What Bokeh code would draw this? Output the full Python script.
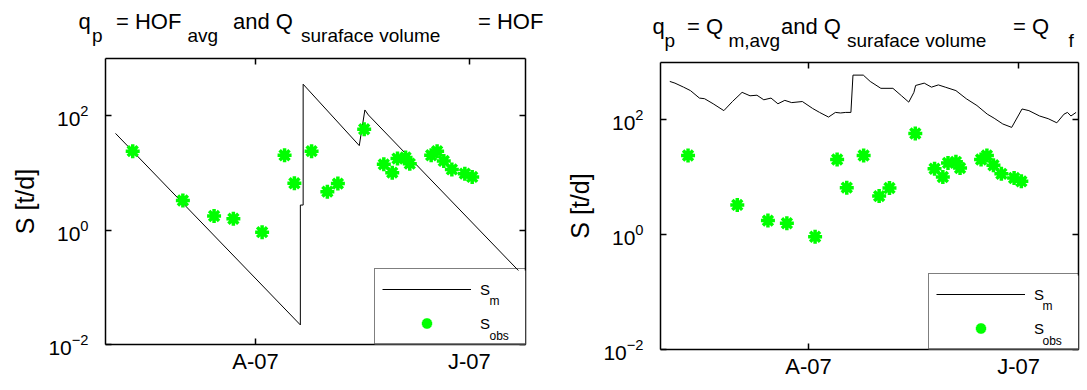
import numpy as np
import pandas as pd
from bokeh.plotting import figure
from bokeh.layouts import row, column
from bokeh.models import (Range1d, FixedTicker, LinearAxis, LogAxis, Label, Div,
                          Legend, LegendItem, CustomJSTickFormatter, LinearScale,
                          BoxAnnotation)
from bokeh.embed import file_html
from bokeh.resources import INLINE

FONT = "Liberation Sans"
BASE = pd.Timestamp("2007-04-01")

# ---------------- data (days relative to 1 April 2007) ----------------
obs_day = [-35.0, -20.7, -11.8, -6.3, 1.9, 8.3, 11.1, 16.0, 20.5, 23.5, 31.0,
           36.6, 39.0, 40.5, 42.8, 44.0, 50.1, 51.8, 53.7, 56.0, 59.7, 61.8]
obs_S = [24, 3.3, 1.76, 1.58, 0.92, 20.4, 6.6, 24, 4.7, 6.5, 58,
         14.1, 10.1, 17.8, 18.6, 14.5, 20.4, 24, 16.2, 11.5, 9.7, 8.5]

hof_day = [-39.9, 12.8, 12.8, 13.6, 13.6, 29.6, 31.2, 32.2, 77.0]
hof_S = [49, 0.022, 2.74, 2.74, 355, 30, 126, 103, 0.146]

qm_day = [-40.3, -38.8, -36.3, -34.3, -31.7, -30.2, -27.7, -24.6, -22.1, -19.3,
          -17.0, -15.0, -13.0, -10.9, -8.9, -6.9, -4.9, -1.8, 1.2, 3.2,
          5.8, 7.8, 9.3, 10.8, 12.3, 12.9, 15.9, 17.9, 21.0, 24.5,
          27.0, 29.1, 30.6, 31.1, 33.6, 35.7, 37.7, 39.7, 42.8, 45.8,
          48.9, 51.9, 53.9, 56.4, 59.0, 62.0, 64.0, 67.1, 69.6, 72.1,
          74.2, 75.2, 76.2, 77.7]
qm_S = [468, 437, 372, 324, 240, 234, 191, 145, 209, 302,
        263, 269, 224, 240, 191, 219, 200, 209, 158, 135,
        112, 135, 132, 135, 135, 603, 603, 468, 355, 355,
        263, 204, 302, 398, 437, 372, 407, 372, 324, 234,
        178, 126, 107, 85, 74, 155, 145, 117, 105, 89,
        126, 135, 117, 135]

xtick_day = [0, 61]
xtick_labels = ["A-07", "J-07"]
ytick_vals = [0.01, 1, 100]

title_left = [("q", "main"), ("p", "sub"), ("= HOF", "main"), ("avg", "sub"),
              ("and Q", "main"), ("suraface volume", "sub"), ("= HOF", "main")]
title_right = [("q", "main"), ("p", "sub"), ("= Q", "main"), ("m,avg", "sub"),
               ("and Q", "main"), ("suraface volume", "sub"), ("= Q", "main"),
               ("f", "sub")]
ylabel = "S [t/d]"
legend_base = "S"
legend_subs = ["m", "obs"]


def to_dt(days):
    return BASE + pd.to_timedelta(np.asarray(days, dtype=float), unit="D")


def to_ms(d):
    return int((BASE + pd.Timedelta(days=d)).value // 10**6)


GREEN = "#00ff00"
ORIGIN_Y = 5      # page y of the layout's top edge
TITLE_H = 52      # height of the title strip
DIV_SHIFT = 4     # extra downward shift of the title text


def blank_fmt():
    return CustomJSTickFormatter(code="return ''")


def make_title(width, page_left, segs, xs, base):
    spans = []
    for (txt, kind), xp in zip(segs, xs):
        if kind == "main":
            size, yb = 22, base
        else:
            size, yb = 19, base + 12
        top = yb - ORIGIN_Y - 0.8465 * size + DIV_SHIFT
        spans.append(
            f'<span style="position:absolute;left:{xp - page_left:.1f}px;top:{top:.1f}px;'
            f'font-size:{size}px;line-height:1;white-space:nowrap;">{txt}</span>')
    html = (f'<div style="position:relative;width:{width}px;height:{TITLE_H}px;'
            f"font-family:'Liberation Sans',Arial,sans-serif;color:#000;\">"
            + "".join(spans) + "</div>")
    return Div(text=html, width=width, height=TITLE_H, margin=0)


def make_panel(cfg):
    fl, ft, fw, fh = cfg["fl"], cfg["ft"], cfg["fw"], cfg["fh"]
    fb = ft + fh
    x0, x1 = cfg["x0"], cfg["x1"]
    p = figure(x_axis_type="datetime", y_axis_type="log",
               frame_width=fw, frame_height=fh,
               min_border_left=fl - cfg["page_left"],
               min_border_top=ft - ORIGIN_Y - TITLE_H,
               min_border_bottom=cfg["bb"], min_border_right=cfg["br"],
               x_range=Range1d(to_dt([x0])[0], to_dt([x1])[0]),
               y_range=Range1d(0.01, 1000),
               output_backend="svg", toolbar_location=None, title=None)
    p.xgrid.visible = False
    p.ygrid.visible = False
    p.outline_line_color = None
    p.background_fill_color = "white"
    p.border_fill_color = "white"
    # page-pixel ranges over the frame, used only to place legend decorations
    p.extra_x_ranges = {"px": Range1d(fl, fl + fw)}
    p.extra_y_ranges = {"py": Range1d(fb, ft)}
    p.extra_x_scales = {"px": LinearScale()}
    p.extra_y_scales = {"py": LinearScale()}

    xt = [to_ms(d) for d in xtick_day]
    xa = p.below[0]
    ya = p.left[0]
    xa.ticker = FixedTicker(ticks=xt)
    xa.major_label_overrides = {t: l for t, l in zip(xt, xtick_labels)}
    ya.ticker = FixedTicker(ticks=ytick_vals)

    top = LinearAxis(ticker=FixedTicker(ticks=xt), formatter=blank_fmt(),
                     major_label_standoff=0)
    right = LogAxis(ticker=FixedTicker(ticks=ytick_vals), formatter=blank_fmt(),
                    major_label_standoff=0)
    p.add_layout(top, "above")
    p.add_layout(right, "right")

    for ax in [xa, ya, top, right]:
        ax.axis_line_color = "black"
        ax.axis_line_width = 1.5
        ax.major_tick_line_color = "black"
        ax.major_tick_line_width = 1.5
        ax.major_tick_in = 6
        ax.major_tick_out = 0
        ax.minor_tick_in = 0
        ax.minor_tick_out = 0
        ax.minor_tick_line_color = None
    for ax in [xa, ya]:
        ax.major_label_text_font = FONT
        ax.major_label_text_color = "black"
    xa.major_label_text_font_size = "22px"
    xa.major_label_standoff = cfg["xstand"]
    ya.major_label_text_font_size = "21px"
    ya.major_label_standoff = 17
    ya.axis_label = ylabel
    ya.axis_label_text_font = FONT
    ya.axis_label_text_font_style = "normal"
    ya.axis_label_text_font_size = "25px"
    ya.axis_label_text_color = "black"
    ya.axis_label_standoff = 6

    r_line = p.line(to_dt(cfg["line_day"]), cfg["line_S"], line_color="black", line_width=1)
    r_obs = p.scatter(to_dt(obs_day), obs_S, marker="asterisk", size=14,
                      line_color=GREEN, line_width=3.5)

    lw = cfg["leg_w"]
    pad, gw, gh, sp = 7, 89, 26, 8
    lh = 2 * pad + 2 * gh + sp
    # white backing of the legend box (hides the model line beneath it)
    p.add_layout(BoxAnnotation(left=fl + fw - lw, right=fl + fw, top=fb - lh, bottom=fb,
                               x_range_name="px", y_range_name="py",
                               fill_color="white", fill_alpha=1.0, line_color=None,
                               level="annotation"))
    leg = Legend(items=[LegendItem(label=legend_base, renderers=[r_line]),
                        LegendItem(label=legend_base, renderers=[r_obs])],
                 location=(fw - lw, 0), orientation="vertical",
                 padding=pad, spacing=sp, glyph_width=gw, glyph_height=gh,
                 label_standoff=9, label_width=lw - pad - gw - 9 - pad,
                 label_text_font=FONT, label_text_font_size="15px",
                 label_text_color="black",
                 border_line_color="black", border_line_width=1.5,
                 background_fill_color="white", background_fill_alpha=0.0,
                 margin=0)
    p.add_layout(leg)

    for (xp, yp), txt in zip(cfg["sub_pos"], legend_subs):
        p.add_layout(Label(x=xp, y=yp, x_range_name="px", y_range_name="py",
                           text=txt, text_font=FONT, text_font_size="12px",
                           text_align="left", text_baseline="alphabetic",
                           text_color="black", level="overlay"))
    return p


left_cfg = dict(page_left=0, fl=105, ft=63, fw=420, fh=286, bb=30, br=38,
                x0=-42.76, x1=77.0, line_day=hof_day, line_S=hof_S, xstand=4,
                leg_w=151, sub_pos=[(489, 305), (489, 340)])
right_cfg = dict(page_left=105 + 420 + 38, fl=660, ft=67, fw=418, fh=287, bb=25, br=3,
                 x0=-43.0, x1=78.4, line_day=qm_day, line_S=qm_S, xstand=4,
                 leg_w=150, sub_pos=[(1042, 310), (1042, 345)])

p1 = make_panel(left_cfg)
p2 = make_panel(right_cfg)
w1 = 105 + 420 + 38
w2 = (660 - w1) + 418 + 3
t1 = make_title(w1, 0, title_left, [78.6, 92, 116, 187.5, 233, 301, 478], 31)
t2 = make_title(w2, w1, title_right, [652.4, 664.6, 687, 728.4, 781, 847, 1013, 1068.6], 36)

layout = row(column(t1, p1), column(t2, p2))
open("out.html", "w").write(file_html(layout, INLINE))
